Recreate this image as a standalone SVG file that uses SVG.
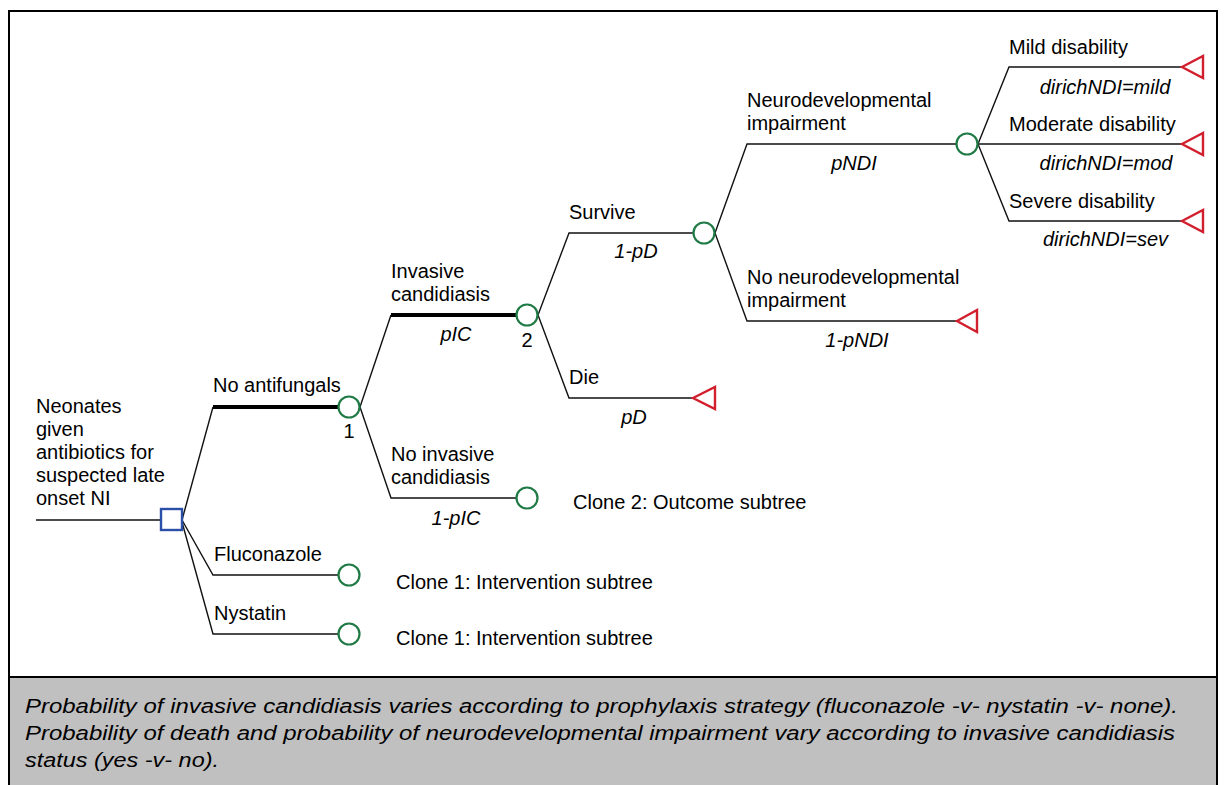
<svg xmlns="http://www.w3.org/2000/svg" width="1224" height="785" viewBox="0 0 1224 785">
<style>
text{font-family:"Liberation Sans",Arial,sans-serif;font-size:20px;fill:#000}
.it{font-style:italic}
.mid{text-anchor:middle}
.ln{fill:none;stroke:#111;stroke-width:1.4}
.thick{fill:none;stroke:#000;stroke-width:4}
.chance{fill:#fff;stroke:#1f7a45;stroke-width:2.2}
.term{fill:#fff;stroke:#d21f2d;stroke-width:2.4}
.dec{fill:#fff;stroke:#2a4fa8;stroke-width:2.4}
</style>
<rect x="0" y="0" width="1224" height="785" fill="#fff"/>
<rect x="9" y="11" width="1208" height="790" fill="#fff" stroke="#000" stroke-width="2"/>
<rect x="9" y="677" width="1208" height="124" fill="#c0c0c0" stroke="#000" stroke-width="2"/>
<g id="connectors">
<path class="ln" d="M36 520 H161"/>
<path class="ln" d="M182 520 L213 407"/>
<path class="thick" d="M213 407 H339"/>
<path class="ln" d="M182 520 L213 575 H338"/>
<path class="ln" d="M182 522 L213 634 H338"/>
<path class="ln" d="M360 407 L391 315"/>
<path class="thick" d="M391 315 H516"/>
<path class="ln" d="M360 407 L391 498 H516"/>
<path class="ln" d="M538 315 L569 233 H693"/>
<path class="ln" d="M538 315 L569 398 H693"/>
<path class="ln" d="M715 233 L747 144 H956"/>
<path class="ln" d="M715 233 L747 321 H957"/>
<path class="ln" d="M978 144 L1009 67 H1182"/>
<path class="ln" d="M978 144 H1182"/>
<path class="ln" d="M978 144 L1009 221 H1182"/>
</g>
<g id="root">
<text x="36" y="413">Neonates</text>
<text x="36" y="436">given</text>
<text x="36" y="459">antibiotics for</text>
<text x="36" y="482">suspected late</text>
<text x="36" y="505">onset NI</text>
<rect class="dec" x="161" y="509" width="21" height="21"/>
</g>
<g id="no-antifungals">
<text x="213" y="392">No antifungals</text>
<circle class="chance" cx="349" cy="407" r="10.5"/>
<text class="mid" x="349" y="438">1</text>
</g>
<g id="fluconazole">
<text x="214" y="561">Fluconazole</text>
<circle class="chance" cx="349" cy="575" r="10.5"/>
<text x="396" y="589">Clone 1: Intervention subtree</text>
</g>
<g id="nystatin">
<text x="214" y="620">Nystatin</text>
<circle class="chance" cx="349" cy="634" r="10.5"/>
<text x="396" y="645">Clone 1: Intervention subtree</text>
</g>
<g id="invasive">
<text x="391" y="278">Invasive</text>
<text x="391" y="301">candidiasis</text>
<text class="it mid" x="456" y="341">pIC</text>
<circle class="chance" cx="527" cy="315" r="10.5"/>
<text class="mid" x="527" y="347">2</text>
</g>
<g id="no-invasive">
<text x="391" y="461">No invasive</text>
<text x="391" y="484">candidiasis</text>
<text class="it mid" x="456" y="525">1-pIC</text>
<circle class="chance" cx="527" cy="498" r="10.5"/>
<text x="573" y="509">Clone 2: Outcome subtree</text>
</g>
<g id="survive">
<text x="569" y="219">Survive</text>
<text class="it mid" x="636" y="258">1-pD</text>
<circle class="chance" cx="704" cy="233" r="10.5"/>
</g>
<g id="die">
<text x="569" y="384">Die</text>
<text class="it mid" x="634" y="424">pD</text>
<polygon class="term" points="693,398 715,387 715,409"/>
</g>
<g id="ndi">
<text x="747" y="107">Neurodevelopmental</text>
<text x="747" y="130">impairment</text>
<text class="it mid" x="854" y="169.5">pNDI</text>
<circle class="chance" cx="967" cy="144" r="10.5"/>
</g>
<g id="no-ndi">
<text x="747" y="284">No neurodevelopmental</text>
<text x="747" y="307">impairment</text>
<text class="it mid" x="857" y="346.5">1-pNDI</text>
<polygon class="term" points="957,321 977,310 977,332"/>
</g>
<g id="mild">
<text x="1009" y="54">Mild disability</text>
<text class="it mid" x="1105" y="93.5">dirichNDI=mild</text>
<polygon class="term" points="1182,67 1203,56 1203,78"/>
</g>
<g id="moderate">
<text x="1009" y="130.5">Moderate disability</text>
<text class="it mid" x="1106" y="169.5">dirichNDI=mod</text>
<polygon class="term" points="1182,144 1203,133 1203,155"/>
</g>
<g id="severe">
<text x="1009" y="207.5">Severe disability</text>
<text class="it mid" x="1105.5" y="246">dirichNDI=sev</text>
<polygon class="term" points="1182,221 1203,210 1203,232"/>
</g>
<g id="caption">
<text class="it" x="25" y="712.5" textLength="1153" lengthAdjust="spacingAndGlyphs">Probability of invasive candidiasis varies according to prophylaxis strategy (fluconazole -v- nystatin -v- none).</text>
<text class="it" x="25" y="739.5" textLength="1150" lengthAdjust="spacingAndGlyphs">Probability of death and probability of neurodevelopmental impairment vary according to invasive candidiasis</text>
<text class="it" x="25" y="767" textLength="194" lengthAdjust="spacingAndGlyphs">status (yes -v- no).</text>
</g>
</svg>
